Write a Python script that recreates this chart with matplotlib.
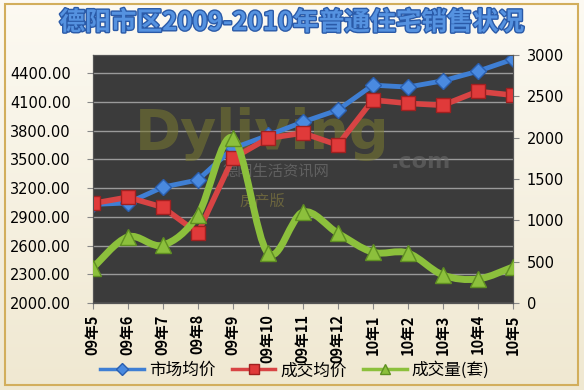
import numpy as np
import matplotlib
matplotlib.use("Agg")
import matplotlib.pyplot as plt
from matplotlib.path import Path
from matplotlib.patches import PathPatch, Rectangle
from matplotlib.lines import Line2D
import matplotlib.patheffects as pe

plt.rcParams['font.family'] = ['Noto Sans CJK SC', 'DejaVu Sans']

months = ['09年5', '09年6', '09年7', '09年8', '09年9', '09年10', '09年11', '09年12',
          '10年1', '10年2', '10年3', '10年4', '10年5']
market_price = [3030, 3045, 3210, 3285, 3615, 3750, 3890, 4015, 4275, 4255, 4320, 4420, 4545]
deal_price = [3040, 3105, 3000, 2730, 3510, 3720, 3775, 3650, 4120, 4085, 4065, 4210, 4170]
deal_volume = [425, 800, 700, 1065, 2000, 605, 1100, 845, 615, 605, 340, 290, 435]

fig = plt.figure(figsize=(5.84, 3.90), dpi=100)

# background gradient
bg = fig.add_axes([0, 0, 1, 1], zorder=-10)
grad = np.linspace(0, 1, 256).reshape(-1, 1)
top = np.array([0.99, 0.98, 0.95])
bot = np.array([0.94, 0.91, 0.82])
img = top[None, None, :] * (1 - grad[:, :, None]) + bot[None, None, :] * grad[:, :, None]
bg.imshow(img, aspect='auto', extent=[0, 1, 0, 1])
bg.axis('off')
fig.patches.append(Rectangle((0.008, 0.012), 0.982, 0.978, transform=fig.transFigure,
                             fill=False, edgecolor='#d2ae5c', linewidth=1.5))

fig.text(0.5, 0.942, '德阳市区2009-2010年普通住宅销售状况', ha='center', va='center',
         fontsize=18.5, fontweight='bold', color='#5592e0',
         path_effects=[pe.withStroke(linewidth=2, foreground='#2a5aa8')])

ax = fig.add_axes([0.159, 0.223, 0.719, 0.636])
ax.set_facecolor('#3b3b3b')
x = np.arange(len(months))

# faint watermark
ax.text(0.1, 0.68, 'Dyliving', transform=ax.transAxes, fontsize=40, fontweight='bold',
        family='DejaVu Sans', color='#7a7a30', alpha=0.55, va='center', zorder=1.5)
ax.text(0.71, 0.57, '.com', transform=ax.transAxes, fontsize=16, fontweight='bold',
        family='DejaVu Sans', color='#6a6a6a', alpha=0.6, va='center', zorder=1.5)
ax.text(0.31, 0.53, '德阳生活资讯网', transform=ax.transAxes, fontsize=11,
        color='#7a7a7a', alpha=0.6, va='center', zorder=1.5)
ax.text(0.35, 0.41, '房产版', transform=ax.transAxes, fontsize=11,
        color='#8a8040', alpha=0.6, va='center', zorder=1.5)

ax.plot(x, market_price, color='#3f7fd4', lw=3.5, marker='D', ms=8,
        mec='#2a5fb0', mfc='#4a8ae0', zorder=3)
ax.plot(x, deal_price, color='#d84444', lw=4, marker='s', ms=10,
        mec='#a02020', mfc='#e03a3a', zorder=4)
ax.set_xlim(0, len(months) - 1)
ax.set_ylim(2000, 4590)
ax.set_yticks(np.arange(2000, 4401, 300))
ax.set_yticklabels(['%.2f' % v for v in np.arange(2000, 4401, 300)], family='DejaVu Sans')
ax.set_xticks(x)
ax.set_xticklabels(months, rotation=90, fontsize=10.5, fontweight='bold')
ax.tick_params(axis='y', labelsize=10.5, length=4, color='#888888', pad=12)
ax.tick_params(axis='x', length=4, color='#888888', pad=4)
ax.yaxis.grid(True, color='#9a9a9a', lw=1)
ax.set_axisbelow(True)
for s in ax.spines.values():
    s.set_color('#555555')

ax2 = ax.twinx()
# smoothed line (Excel style) through the volume points
pts = np.column_stack([x, deal_volume]).astype(float)
verts = [pts[0]]
codes = [Path.MOVETO]
n = len(pts)
for i in range(n - 1):
    p0 = pts[max(i - 1, 0)]
    p1 = pts[i]
    p2 = pts[i + 1]
    p3 = pts[min(i + 2, n - 1)]
    verts += [p1 + (p2 - p0) / 6, p2 - (p3 - p1) / 6, p2]
    codes += [Path.CURVE4] * 3
ax2.add_patch(PathPatch(Path(verts, codes), fill=False, edgecolor='#8cc03c', lw=5,
                        capstyle='round', joinstyle='round', zorder=3))
ax2.plot(x, deal_volume, ls='none', marker='^', ms=12, mfc='#8cc03c', mec='#5f8f22', zorder=4)
ax2.set_ylim(0, 3000)
ax2.set_yticks(np.arange(0, 3001, 500))
ax2.tick_params(axis='y', labelsize=10.5, length=4, color='#888888', pad=6)
ax2.set_yticklabels([str(v) for v in range(0, 3001, 500)], family='DejaVu Sans')
for s in ax2.spines.values():
    s.set_color('#555555')

handles = [
    Line2D([], [], color='#3f7fd4', lw=2.5, marker='D', ms=6, mfc='#4a8ae0', mec='#2a5fb0'),
    Line2D([], [], color='#d84444', lw=2.5, marker='s', ms=7, mfc='#e03a3a', mec='#a02020'),
    Line2D([], [], color='#8cc03c', lw=2.5, marker='^', ms=7, mfc='#8cc03c', mec='#5f8f22'),
]
fig.legend(handles, ['市场均价', '成交均价', '成交量(套)'], loc='center', ncol=3,
           bbox_to_anchor=(0.505, 0.05), frameon=False, fontsize=12,
           handlelength=2.6, columnspacing=1.0, handletextpad=0.3)

fig.savefig('out.png', dpi=100)
